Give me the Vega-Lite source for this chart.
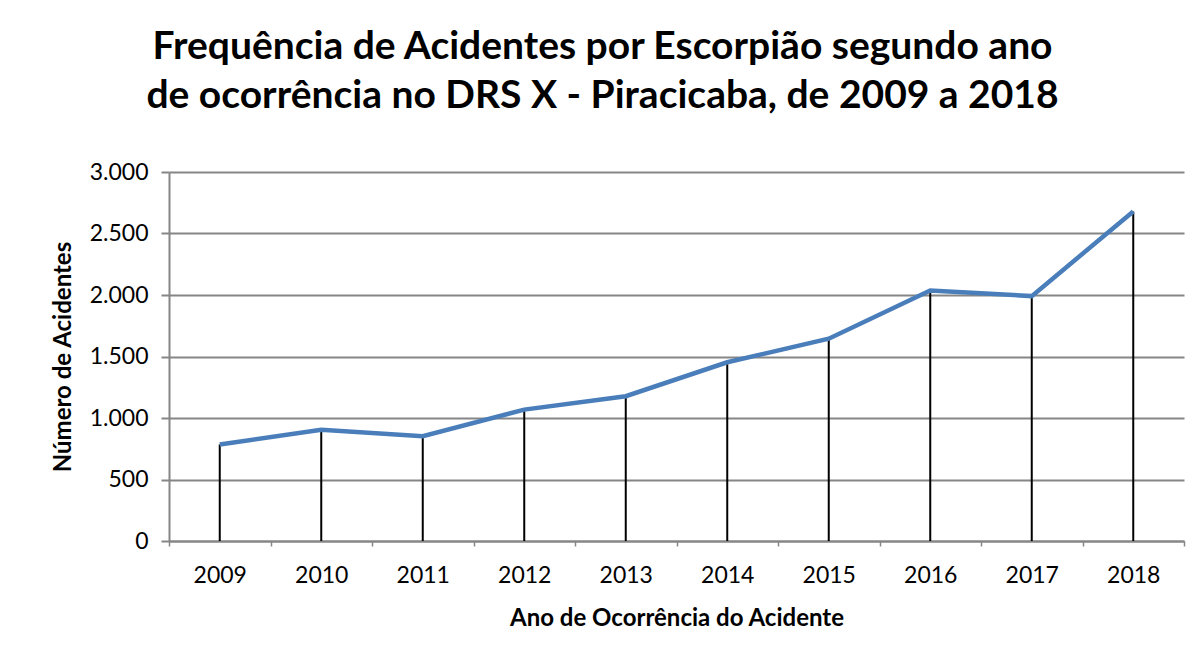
{
  "$schema": "https://vega.github.io/schema/vega-lite/v6.json",
  "autosize": "none",
  "width": 1015,
  "height": 369,
  "padding": {"left": 169, "top": 172, "right": 16, "bottom": 113},
  "background": "white",
  "title": {
    "text": ["Frequência de Acidentes por Escorpião segundo ano", "de ocorrência no DRS X - Piracicaba, de 2009 a 2018"],
    "font": "Lato",
    "fontSize": 39,
    "fontWeight": "bold",
    "color": "black",
    "anchor": "middle",
    "dx": -74,
    "offset": 45,
    "lineHeight": 49
  },
  "data": {
    "values": [
      {"ano": "2009", "acidentes": 785},
      {"ano": "2010", "acidentes": 905},
      {"ano": "2011", "acidentes": 852},
      {"ano": "2012", "acidentes": 1068},
      {"ano": "2013", "acidentes": 1177},
      {"ano": "2014", "acidentes": 1453},
      {"ano": "2015", "acidentes": 1645},
      {"ano": "2016", "acidentes": 2037},
      {"ano": "2017", "acidentes": 1991},
      {"ano": "2018", "acidentes": 2679}
    ]
  },
  "encoding": {
    "x": {
      "field": "ano",
      "type": "ordinal",
      "scale": {"type": "band", "paddingInner": 0, "paddingOuter": 0},
      "axis": {
        "title": "Ano de Ocorrência do Acidente",
        "labelAngle": 0,
        "labelFont": "Lato",
        "labelFontSize": 23,
        "labelColor": "black",
        "labelPadding": 18,
        "titleFont": "Lato",
        "titleFontSize": 24,
        "titleFontWeight": "bold",
        "titleColor": "black",
        "titlePadding": 19,
        "domainColor": "#868686",
        "domainWidth": 2,
        "tickColor": "#868686",
        "tickWidth": 1.5,
        "tickSize": 5,
        "tickBand": "extent",
        "grid": false
      }
    },
    "y": {
      "field": "acidentes",
      "type": "quantitative",
      "scale": {"domain": [0, 3000]},
      "axis": {
        "title": "Número de Acidentes",
        "values": [0, 500, 1000, 1500, 2000, 2500, 3000],
        "labelExpr": "replace(format(datum.value, ','), ',', '.')",
        "labelFont": "Lato",
        "labelFontSize": 23,
        "labelColor": "black",
        "labelPadding": 13,
        "titleFont": "Lato",
        "titleFontSize": 24,
        "titleFontWeight": "bold",
        "titleColor": "black",
        "titlePadding": 14,
        "domainColor": "#868686",
        "domainWidth": 2,
        "tickColor": "#868686",
        "tickWidth": 2,
        "tickSize": 8,
        "gridColor": "#868686",
        "gridWidth": 2,
        "gridOpacity": 1
      }
    }
  },
  "layer": [
    {
      "mark": {"type": "rule", "color": "black", "strokeWidth": 2},
      "encoding": {"y2": {"datum": 0}}
    },
    {
      "mark": {"type": "line", "color": "#4A7EBB", "strokeWidth": 4.5}
    }
  ],
  "config": {"view": {"stroke": null}}
}
